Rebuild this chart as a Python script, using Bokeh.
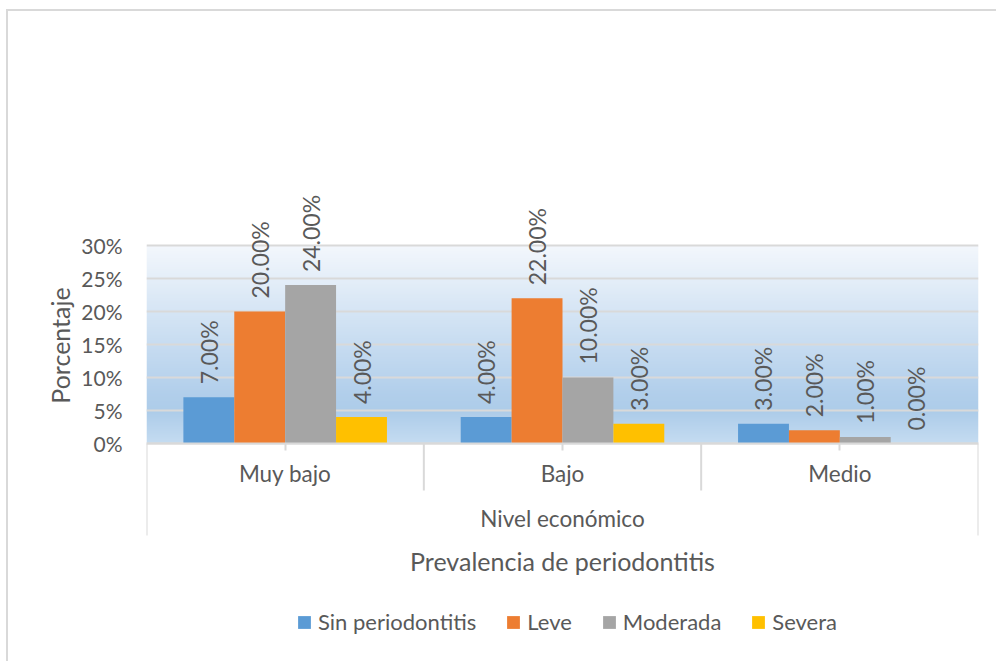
import numpy as np
from bokeh.plotting import figure
from bokeh.models import (ColumnDataSource, FactorRange, Range1d, FixedTicker,
                          NumeralTickFormatter, CategoricalAxis, Legend, LegendItem)
from bokeh.transform import dodge
from bokeh.core.properties import value
from bokeh.embed import file_html
from bokeh.resources import INLINE

# ---------------- data ----------------
categories = ["Muy bajo", "Bajo", "Medio"]
series = ["Sin periodontitis", "Leve", "Moderada", "Severa"]
sin_periodontitis = [0.07, 0.04, 0.03]
leve = [0.20, 0.22, 0.02]
moderada = [0.24, 0.10, 0.01]
severa = [0.04, 0.03, 0.00]
y_ticks = [0.0, 0.05, 0.10, 0.15, 0.20, 0.25, 0.30]
group_title = "Nivel económico"
x_title = "Prevalencia de periodontitis"
y_title = "Porcentaje"

# ---------------- style / layout ----------------
colors = ["#5b9bd5", "#ed7d31", "#a5a5a5", "#ffc000"]
FONT = "Lato"
TXT = "#595959"
GRID = "#d9d9d9"
W, H = 996, 661
FRAME_L, FRAME_R, FRAME_T, FRAME_B = 146, 978, 50, 640
Y0_PX, YTOP_PX = 443, 245
PXU = (Y0_PX - YTOP_PX) / y_ticks[-1]          # pixels per unit on y
y_start = -(FRAME_B - Y0_PX) / PXU
y_end = (Y0_PX - FRAME_T) / PXU

values = [sin_periodontitis, leve, moderada, severa]
data = {"cat": categories}
for name, vals in zip(series, values):
    data[name] = vals
    data[name + "_lbl"] = [f"{v * 100:.2f}%" for v in vals]
source = ColumnDataSource(data)

p = figure(width=W, height=H,
           x_range=FactorRange(*categories, range_padding=0, factor_padding=0),
           y_range=Range1d(y_start, y_end),
           output_backend="svg", toolbar_location=None,
           min_border_left=FRAME_L, min_border_right=W - FRAME_R,
           min_border_top=FRAME_T, min_border_bottom=H - FRAME_B)
p.border_fill_color = None
p.background_fill_color = None
p.outline_line_color = None
p.styles = {
    "background-image": "linear-gradient(#d9d9d9, #d9d9d9), linear-gradient(#d9d9d9, #d9d9d9)",
    "background-size": "2px 100%, 100% 2px",
    "background-position": "6px 9px, 6px 9px",
    "background-repeat": "no-repeat",
}

# plot-area gradient background
stops = [(0.0, (243, 247, 252)), (0.74, (178, 207, 235)),
         (0.84, (173, 204, 233)), (1.0, (197, 220, 241))]
N = 200
img = np.zeros((N, 1), dtype=np.uint32)
view = img.view(dtype=np.uint8).reshape((N, 1, 4))
for i in range(N):
    t = 1 - (i + 0.5) / N
    for (t0, c0), (t1, c1) in zip(stops[:-1], stops[1:]):
        if t0 <= t <= t1:
            f = (t - t0) / (t1 - t0)
            rgb = [int(round(a + (b - a) * f)) for a, b in zip(c0, c1)]
            break
    view[i, 0, :] = rgb + [255]
p.image_rgba(image=[img], x=0, y=0, dw=len(categories), dh=y_ticks[-1], level="image")

p.xgrid.visible = False
p.ygrid.ticker = FixedTicker(ticks=y_ticks)
p.ygrid.grid_line_color = GRID
p.ygrid.grid_line_width = 2

# bars and data labels
bar_w = 0.1835
renderers = []
for k, (name, col) in enumerate(zip(series, colors)):
    off = (k - (len(series) - 1) / 2) * bar_w
    r = p.vbar(x=dodge("cat", off, range=p.x_range), top=name, width=bar_w,
               source=source, fill_color=col, line_color=None)
    renderers.append(r)
    p.text(x=dodge("cat", off, range=p.x_range), y=name, text=name + "_lbl",
           source=source, angle=np.pi / 2, text_align="left", text_baseline="middle",
           y_offset=-13, text_font=value(FONT), text_font_size="23px", text_color=TXT)

# category separator lines below the axis
n = len(categories)
bounds = list(range(n + 1))
depths = [-(92 if b in (0, n) else 47) / PXU for b in bounds]
p.segment(x0=bounds, y0=[0] * len(bounds), x1=bounds, y1=depths,
          line_color=GRID, line_width=2)

# y axis
ya = p.yaxis[0]
ya.ticker = FixedTicker(ticks=y_ticks)
ya.formatter = NumeralTickFormatter(format="0%")
ya.axis_line_color = None
ya.major_tick_line_color = None
ya.minor_tick_line_color = None
ya.major_label_standoff = 18
ya.major_label_text_font = FONT
ya.major_label_text_font_size = "21px"
ya.major_label_text_color = TXT
ya.axis_label = y_title
ya.axis_label_text_font = FONT
ya.axis_label_text_font_size = "25px"
ya.axis_label_text_font_style = "normal"
ya.axis_label_text_color = TXT
ya.axis_label_standoff = 3

# category axis drawn at y = 0
xa = p.xaxis[0]
xa.fixed_location = 0
xa.axis_line_color = GRID
xa.axis_line_width = 2
xa.major_tick_line_color = GRID
xa.major_tick_line_width = 2
xa.major_tick_out = 7
xa.major_tick_in = 0
xa.major_label_standoff = 9
xa.major_label_text_font = FONT
xa.major_label_text_font_size = "22.5px"
xa.major_label_text_color = TXT
xa.axis_label = group_title
xa.axis_label_text_font = FONT
xa.axis_label_text_font_size = "22.5px"
xa.axis_label_text_font_style = "normal"
xa.axis_label_text_color = TXT
xa.axis_label_standoff = 15

# outer axis title (axis without ticks), at the end of the outer separators
xa2 = CategoricalAxis(ticker=FixedTicker(ticks=[]), fixed_location=depths[0],
                      axis_line_color=None, major_tick_line_color=None,
                      minor_tick_line_color=None, axis_label=x_title,
                      axis_label_text_font=FONT, axis_label_text_font_size="25px",
                      axis_label_text_font_style="normal", axis_label_text_color=TXT,
                      axis_label_standoff=10)
p.add_layout(xa2, "below")

legend = Legend(items=[LegendItem(label=s, renderers=[r]) for s, r in zip(series, renderers)],
                orientation="horizontal", location=(298 - FRAME_L - 2, (FRAME_B - 622) - 13),
                padding=0, margin=0, spacing=29, glyph_width=16, glyph_height=16,
                label_standoff=6, border_line_color=None, background_fill_alpha=0,
                label_text_font=FONT, label_text_font_size="22px", label_text_color=TXT)
p.add_layout(legend)

open("out.html", "w").write(file_html(p, INLINE))
